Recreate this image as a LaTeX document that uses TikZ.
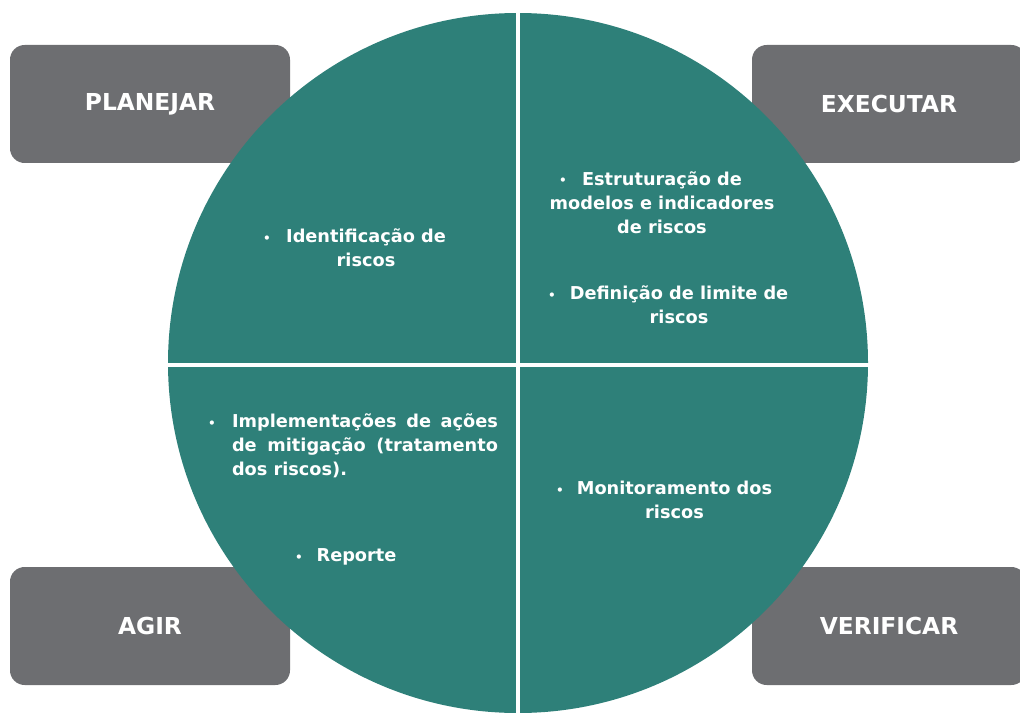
\documentclass[tikz,border=0pt]{standalone}
\usepackage{fontspec}
\setmainfont{DejaVu Sans}
\definecolor{boxgray}{RGB}{109,110,113}
\definecolor{circteal}{RGB}{46,128,121}
\newcommand{\titlefont}{\fontsize{17.5pt}{21pt}\selectfont\bfseries}
\newcommand{\bodyfont}{\fontsize{13.3pt}{18pt}\selectfont\bfseries}
\newcommand{\bulfont}{\fontsize{9pt}{10pt}\selectfont\bfseries}
\begin{document}
\begin{tikzpicture}[x=0.75pt,y=-0.75pt,
  phasebox/.style={fill=boxgray, draw=none, rounded corners=11pt, inner sep=0pt,
    minimum height=88.5pt, text=white, font=\titlefont},
  leftbox/.style={phasebox, minimum width=210pt},
  rightbox/.style={phasebox, minimum width=205.5pt},
  bodytext/.style={text=white, font=\bodyfont, inner sep=0pt, align=center},
  bul/.style={text=white, font=\bulfont, inner sep=0pt, anchor=base}]
\useasboundingbox (0,0) rectangle (1020,713);
% phase boxes
\node[leftbox]  (planejar)  at (150,104) {PLANEJAR};
\node[rightbox] (executar)  at (889,104) {EXECUTAR};
\node[leftbox]  (agir)      at (150,626) {AGIR};
\node[rightbox] (verificar) at (889,626) {VERIFICAR};
% circle with quadrant gaps
\fill[circteal] (518,363) circle [radius=350];
\draw[white, line width=3pt] (518,10) -- (518,716);
\draw[white, line width=3pt] (160,365) -- (876,365);
% top-left
\node[bul] (b1) at (267,242) {•};
\node[bodytext, anchor=north] (t1) at (366,225.2) {\strut Identificação de\\riscos};
% top-right
\node[bul] (b2) at (563,185) {•};
\node[bodytext, anchor=north] (t2) at (662,168.2) {\strut Estruturação de\\modelos e indicadores\\de riscos};
\node[bul] (b3) at (552,299) {•};
\node[bodytext, anchor=north] (t3) at (679,282.2) {\strut Definição de limite de\\riscos};
% bottom-left
\node[bul] (b4) at (212,427.7) {•};
\node[bodytext, align=justify, text width=199.5pt, anchor=north] (t4) at (365,410.9)
  {\strut Implementações de ações\linebreak de mitigação (tratamento\linebreak dos riscos).};
\node[bul] (b5) at (299,561) {•};
\node[bodytext, anchor=base] (t5) at (356.5,561) {Reporte};
% bottom-right
\node[bul] (b6) at (560,494) {•};
\node[bodytext, anchor=north] (t6) at (674.5,477.2) {\strut Monitoramento dos\\riscos};
\end{tikzpicture}
\end{document}
